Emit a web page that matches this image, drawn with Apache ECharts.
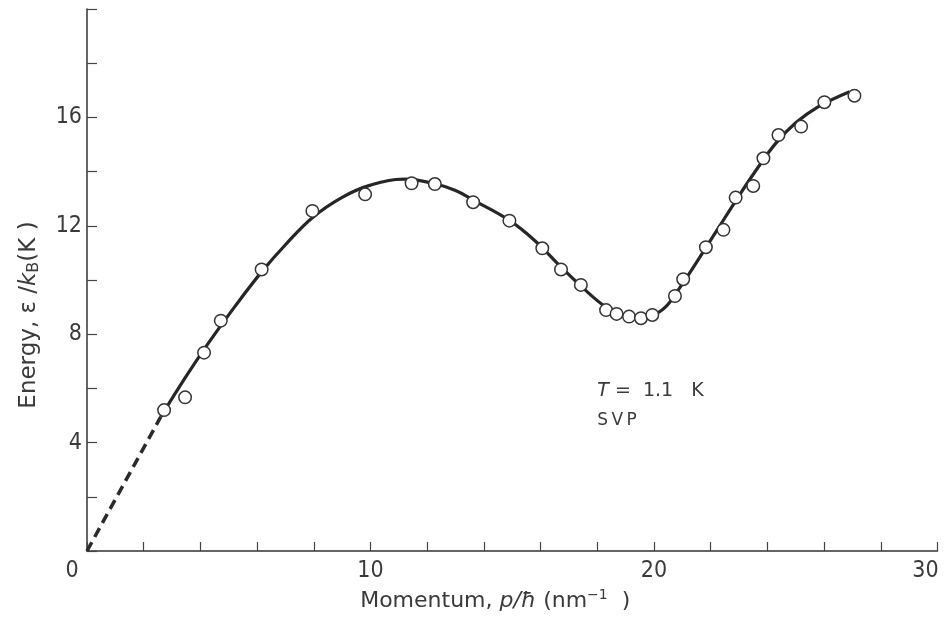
<!DOCTYPE html>
<html>
<head>
<meta charset="utf-8">
<script src="https://cdn.jsdelivr.net/npm/echarts@6/dist/echarts.min.js"></script>
<style>html,body{margin:0;padding:0;background:#fff}#c{width:944px;height:621px}</style>
</head>
<body>
<div id="c"></div>
<script>
// Measured points (momentum p/ħ in nm^-1, energy ε/kB in K)
const pointMomentum = [2.72,3.46,4.13,4.72,6.16,7.95,9.81,11.45,12.27,13.62,14.90,16.06,16.72,17.42,18.31,18.68,19.12,19.54,19.94,20.74,21.03,21.83,22.45,22.88,23.50,23.86,24.39,25.19,26.01,27.07];
const pointEnergy   = [5.20,5.67,7.32,8.50,10.39,12.55,13.16,13.57,13.54,12.87,12.19,11.17,10.39,9.82,8.89,8.75,8.65,8.59,8.71,9.41,10.03,11.21,11.85,13.04,13.47,14.49,15.35,15.66,16.56,16.80];
// Smooth dispersion curve (solid)
const curveMomentum = [2.6,3.5,4.3,5.2,6.16,7.0,7.95,9.0,10.0,11.2,12.27,13.0,13.62,14.9,15.8,16.7,17.5,18.3,18.8,19.3,19.9,20.4,20.9,21.5,22.2,22.9,23.6,24.3,25.0,25.8,26.9];
const curveEnergy   = [4.95,6.45,7.7,9.0,10.3,11.3,12.3,13.05,13.5,13.72,13.55,13.3,12.95,12.2,11.45,10.5,9.7,9.0,8.75,8.6,8.68,9.0,9.7,10.65,11.8,12.95,14.05,15.05,15.8,16.4,16.95];
// Phonon extrapolation (dashed)
const dashMomentum = [0,2.6];
const dashEnergy   = [0,4.95];
// Axis labels
const xTickLabels = [0,10,20,30];
const yTickLabels = [4,8,12,16];

const zip = (a,b)=>a.map((v,i)=>[v,b[i]]);
const font = '"DejaVu Sans", sans-serif';
const tickFont = '"DejaVu Sans Condensed", "DejaVu Sans", sans-serif';
const txt = '#3a3a3a';

const chart = echarts.init(document.getElementById('c'), null, {renderer:'canvas'});
const option = {
  animation:false,
  backgroundColor:'#fff',
  grid:{left:87,right:6.5,top:9,bottom:70,containLabel:false,outerBoundsMode:'none'},
  xAxis:{
    type:'value',min:0,max:30,interval:2,
    axisLine:{lineStyle:{color:'#333',width:1.5}},
    axisTick:{inside:true,length:9,lineStyle:{color:'#444',width:1.2}},
    splitLine:{show:false},
    axisLabel:{
      showMinLabel:true,showMaxLabel:true,margin:9,hideOverlap:false,
      fontFamily:tickFont,fontSize:23,color:txt,
      formatter:v=>{
        if(!xTickLabels.includes(v)) return '';
        if(v===0) return '{z|0}';
        if(v===30) return '{m|30}';
        return String(v);
      },
      rich:{
        z:{fontFamily:tickFont,fontSize:23,color:txt,padding:[0,30,0,0]},
        m:{fontFamily:tickFont,fontSize:23,color:txt,padding:[0,24,0,0]}
      }
    },
    name:'{n|Momentum, }{i|p/ħ}{n| (nm}{s|−1}{n|  )}',
    nameLocation:'middle',nameGap:35,
    nameTextStyle:{
      padding:[0,34,0,0],
      rich:{
        n:{fontFamily:font,fontSize:22,color:txt},
        i:{fontFamily:font,fontSize:22,color:txt,fontStyle:'italic'},
        s:{fontFamily:font,fontSize:14,color:txt,padding:[0,0,12,0]}
      }
    }
  },
  yAxis:{
    type:'value',min:0,max:20,interval:2,
    axisLine:{lineStyle:{color:'#333',width:1.5}},
    axisTick:{inside:true,length:10,lineStyle:{color:'#444',width:1.2}},
    splitLine:{show:false},
    axisLabel:{
      margin:5,fontFamily:tickFont,fontSize:23,color:txt,
      formatter:v=>yTickLabels.includes(v)?String(v):''
    },
    name:'{n|Energy, ε /}{i|k}{b|B}{n|(K )}',
    nameLocation:'middle',nameRotate:90,nameGap:45,
    nameTextStyle:{
      padding:[0,70,0,0],
      rich:{
        n:{fontFamily:font,fontSize:23,color:txt},
        i:{fontFamily:font,fontSize:23,color:txt,fontStyle:'italic'},
        b:{fontFamily:font,fontSize:16,color:txt,padding:[10,0,0,0]}
      }
    }
  },
  series:[
    {type:'line',data:zip(dashMomentum,dashEnergy),symbol:'none',
     lineStyle:{color:'#2a2a2a',width:3.5,type:[10,6]},z:2},
    {type:'line',data:zip(curveMomentum,curveEnergy),symbol:'none',smooth:0.4,
     lineStyle:{color:'#262626',width:3.2},z:2},
    {type:'scatter',data:zip(pointMomentum,pointEnergy),symbol:'circle',symbolSize:12.5,
     itemStyle:{color:'#fff',borderColor:'#333',borderWidth:1.5,opacity:1},z:3}
  ]
};
chart.setOption(option);
const p1 = chart.convertToPixel({gridIndex:0},[18.0,5.9]);
const p2 = chart.convertToPixel({gridIndex:0},[18.0,4.8]);
chart.setOption({graphic:[
  {type:'text',x:p1[0],y:p1[1],style:{text:'{i|T}{n| =  1.1   K}',verticalAlign:'middle',
    rich:{i:{fontFamily:font,fontSize:19,fontStyle:'italic',fill:txt},n:{fontFamily:font,fontSize:19,fill:txt}}}},
  {type:'text',x:p2[0],y:p2[1],style:{text:'S\u2009V\u2009P',verticalAlign:'middle',fontFamily:font,fontSize:17,fill:txt}}
]});
</script>
</body>
</html>
